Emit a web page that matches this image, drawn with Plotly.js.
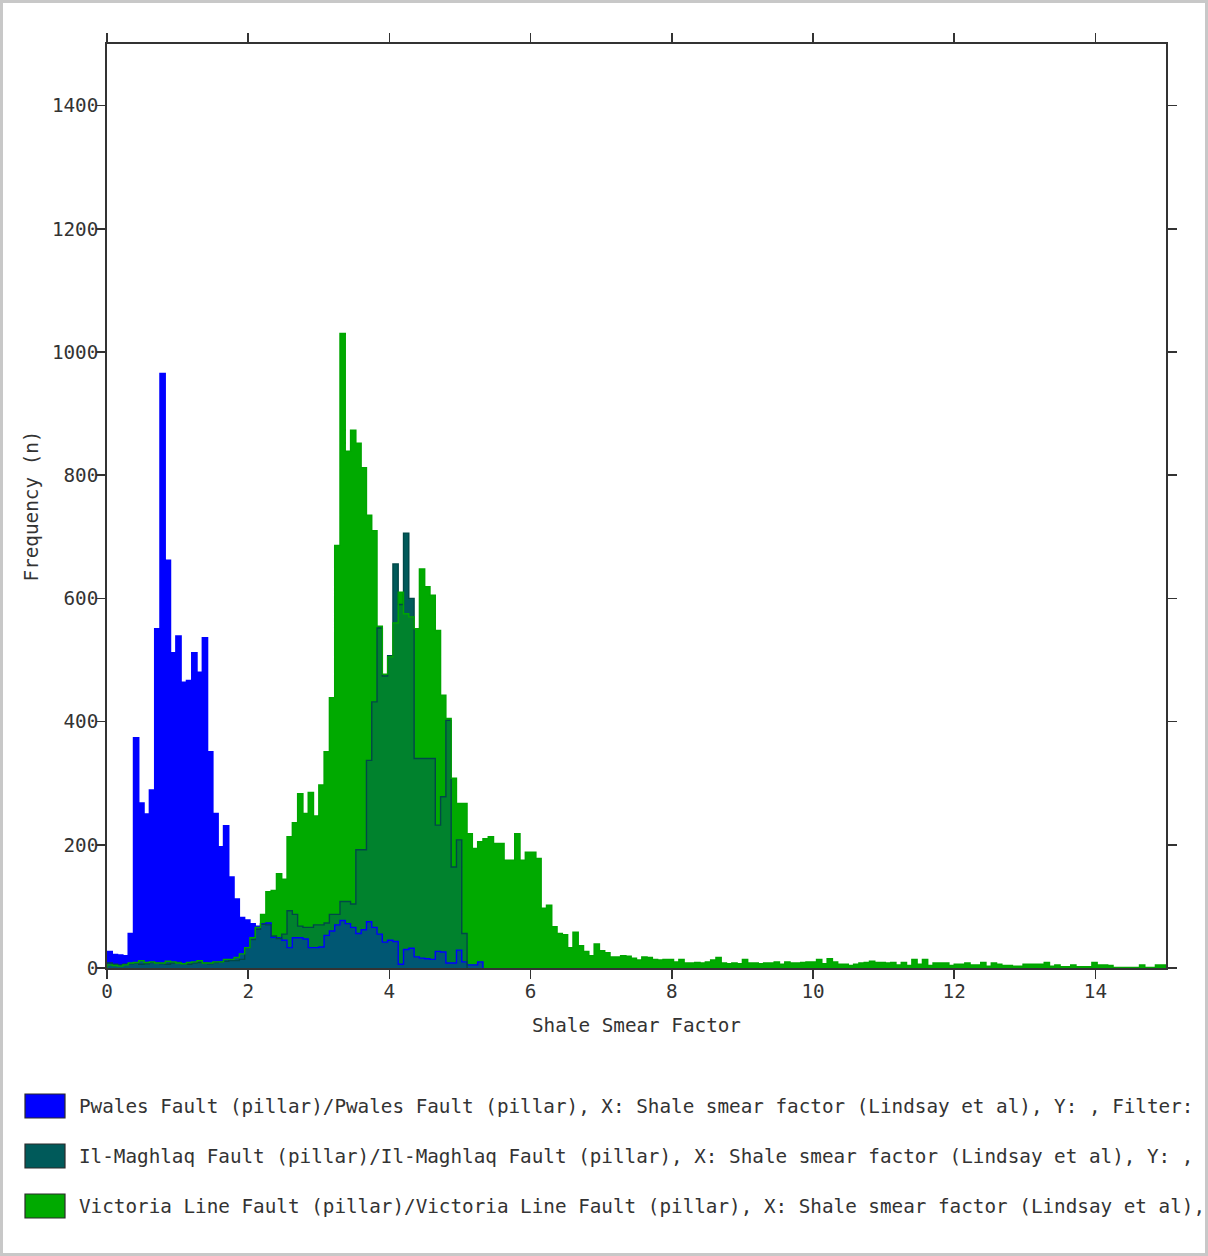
<!DOCTYPE html>
<html>
<head>
<meta charset="utf-8">
<script src="https://cdn.plot.ly/plotly-3.0.1.min.js"></script>
<style>
html,body{margin:0;padding:0;background:#fff;}
#wrap{position:relative;width:1208px;height:1256px;overflow:hidden;}
#chart{width:1208px;height:1256px;}
#frame{position:absolute;left:0;top:0;width:1208px;height:1256px;box-sizing:border-box;border:3px solid #c8c8c8;pointer-events:none;}
</style>
</head>
<body>
<div id="wrap"><div id="chart"></div><div id="frame"></div></div>
<script>
// ---------------- data ----------------
const binWidth = 0.075;   // shared histogram bin width (Shale Smear Factor units)

const seriesNames = [
  "Pwales Fault (pillar)/Pwales Fault (pillar), X: Shale smear factor (Lindsay et al), Y: , Filter:",
  "Il-Maghlaq Fault (pillar)/Il-Maghlaq Fault (pillar), X: Shale smear factor (Lindsay et al), Y: ,",
  "Victoria Line Fault (pillar)/Victoria Line Fault (pillar), X: Shale smear factor (Lindsay et al),"
];

const blueCounts = [27,22,21,20,56,374,268,250,289,551,965,662,512,539,464,467,512,480,536,351,
  251,197,231,148,112,82,78,72,68,72,73,50,49,45,33,49,49,47,33,33,
  34,53,60,70,77,72,66,56,62,75,66,55,42,45,43,6,30,32,18,16,
  15,14,27,26,8,8,29,10,5,5,10];

const tealCounts = [8,6,5,6,7,8,6,7,9,8,7,6,8,9,7,6,8,9,8,7,
  9,10,11,12,12,14,33,46,63,71,70,52,48,55,93,87,68,66,66,70,
  70,73,87,87,108,108,104,192,192,337,432,552,474,507,656,590,706,600,340,340,
  340,340,232,278,402,164,208,56];

const greenCounts = [5,4,3,5,8,9,12,9,10,8,8,11,10,8,7,9,10,12,8,8,
  10,10,14,14,17,23,33,49,66,87,124,126,153,144,213,236,283,251,285,247,
  297,351,439,686,1030,839,873,852,812,735,710,555,477,505,560,610,575,570,551,648,
  619,605,548,443,405,308,267,267,218,194,205,210,213,202,202,175,175,218,175,188,
  188,178,97,102,67,56,54,33,58,36,27,20,39,28,25,18,18,20,19,16,
  13,18,17,14,13,14,14,10,14,8,8,9,8,10,13,17,8,7,8,7,
  14,8,8,7,8,8,10,6,10,8,8,9,10,10,14,7,15,10,6,6,
  4,6,8,9,11,9,9,8,9,5,9,4,14,6,14,4,8,8,8,4,
  6,6,8,5,5,9,3,8,6,4,4,3,3,6,6,6,6,9,3,5,
  2,2,5,2,2,2,9,5,5,4,1,1,1,1,1,5,1,1,5,5];

const xTickVals = [0,2,4,6,8,10,12,14];
const yTickVals = [0,200,400,600,800,1000,1200,1400];
const xAxisTitle = "Shale Smear Factor";
const yAxisTitle = "Frequency (n)";

// ---------------- styling ----------------
const seriesStyle = [
  {key:"B", counts: blueCounts,  rgb:[0,0,255],  line:"rgb(0,0,255)"},
  {key:"T", counts: tealCounts,  rgb:[0,90,90],  line:"rgb(0,72,72)"},
  {key:"G", counts: greenCounts, rgb:[0,170,0],  line:"rgb(0,165,0)"}
];
const FONT = "DejaVu Sans Mono, Liberation Mono, monospace";
const FS = 19.3;
const TXT = "#333";

// overlapping fills are shown as the average colour of the overlapping series
const nBins = Math.max(...seriesStyle.map(s => s.counts.length));
const groups = {};
for (let k = 0; k < nBins; k++) {
  const hs = seriesStyle.map(s => ({s, h: s.counts[k] || 0}))
                        .filter(o => o.h > 0)
                        .sort((a, b) => a.h - b.h);
  let prev = 0;
  for (let i = 0; i < hs.length; i++) {
    const h = hs[i].h;
    if (h > prev) {
      const active = hs.slice(i);
      const key = active.map(o => o.s.key).sort().join("");
      const rgb = [0,1,2].map(c => Math.round(active.reduce((a,o) => a + o.s.rgb[c], 0) / active.length));
      if (!groups[key]) groups[key] = {x:[], y:[], base:[], rgb};
      groups[key].x.push((k + 0.5) * binWidth);
      groups[key].y.push(h - prev);
      groups[key].base.push(prev);
      prev = h;
    }
  }
}

const traces = [];
Object.keys(groups).forEach(key => {
  const g = groups[key];
  traces.push({
    type: "bar", x: g.x, y: g.y, base: g.base, width: binWidth,
    marker: {color: `rgb(${g.rgb.join(",")})`, line: {width: 0}},
    hoverinfo: "skip", showlegend: false
  });
});

// step outlines for each histogram
seriesStyle.forEach(s => {
  const xs = [0], ys = [0];
  s.counts.forEach((v, k) => { xs.push(k * binWidth); ys.push(v); });
  xs.push(s.counts.length * binWidth); ys.push(0);
  traces.push({
    type: "scatter", mode: "lines", x: xs, y: ys,
    line: {shape: "hv", color: s.line, width: 1.4},
    hoverinfo: "skip", showlegend: false
  });
});

// ---------------- layout ----------------
const M = {l:107, r:42, t:44, b:288};
const W = 1208, H = 1256;
const pw = W - M.l - M.r, ph = H - M.t - M.b;
const px2x = px => (px - M.l) / pw;
const px2y = py => (H - M.b - py) / ph;

const legendY = [1106, 1156, 1206];
const shapes = [], annotations = [];
seriesStyle.forEach((s, i) => {
  shapes.push({
    type: "rect", xref: "paper", yref: "paper",
    x0: px2x(25), x1: px2x(65), y0: px2y(legendY[i] + 12), y1: px2y(legendY[i] - 12),
    fillcolor: `rgb(${s.rgb.join(",")})`, line: {color: "#2b2b2b", width: 1.2}
  });
  annotations.push({
    xref: "paper", yref: "paper", x: px2x(77), y: px2y(legendY[i]),
    xanchor: "left", yanchor: "middle", showarrow: false,
    text: seriesNames[i], font: {family: FONT, size: FS, color: TXT}
  });
});

const axisCommon = {
  ticks: "outside", ticklen: 9, tickwidth: 1.6, tickcolor: "#333",
  showline: true, linecolor: "#333", linewidth: 1.8, mirror: "ticks",
  showgrid: false, zeroline: false, fixedrange: true,
  tickfont: {family: FONT, size: FS, color: TXT}
};

const layout = {
  width: W, height: H, margin: M,
  paper_bgcolor: "#fff", plot_bgcolor: "#fff",
  barmode: "overlay", bargap: 0, showlegend: false,
  font: {family: FONT, size: FS, color: TXT},
  xaxis: Object.assign({}, axisCommon, {
    range: [0, 15], tickvals: xTickVals, ticktext: xTickVals.map(String),
    ticklabelstandoff: -4,
    title: {text: xAxisTitle, standoff: 16, font: {family: FONT, size: FS, color: TXT}}
  }),
  yaxis: Object.assign({}, axisCommon, {
    range: [0, 1500], tickvals: yTickVals, ticktext: yTickVals.map(String),
    ticklabelstandoff: -6,
    title: {text: yAxisTitle, standoff: 8, font: {family: FONT, size: FS, color: TXT}}
  }),
  shapes, annotations
};

Plotly.newPlot("chart", traces, layout, {staticPlot: true, displayModeBar: false});
</script>
</body>
</html>
